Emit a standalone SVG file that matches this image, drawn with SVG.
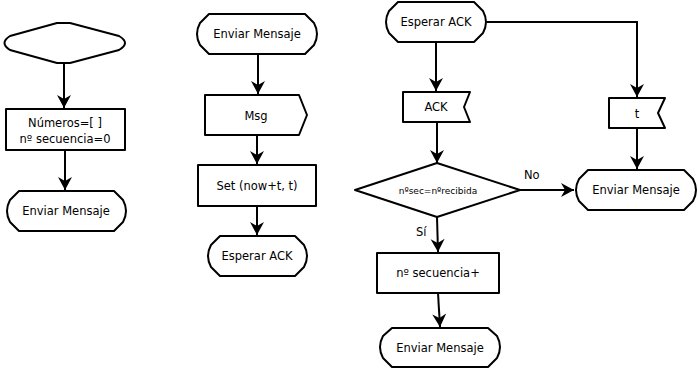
<svg xmlns="http://www.w3.org/2000/svg" width="698" height="369" viewBox="0 0 698 369">
  <style>
    .shape { fill: #ffffff; stroke: #000000; stroke-width: 2; stroke-linejoin: round; }
    .conn { fill: none; stroke: #000000; stroke-width: 2; marker-end: url(#arrow); }
    .label { font-family: "DejaVu Sans", Verdana, sans-serif; font-size: 11.5px; fill: #000000; text-anchor: middle; }
    .small { font-size: 9px; }
    .side { text-anchor: start; }
  </style>
  <defs>
    <marker id="arrow" markerUnits="userSpaceOnUse" markerWidth="16" markerHeight="16" viewBox="-14 -8 16 16" refX="0" refY="0" orient="auto">
      <path d="M0,0 L-13,-7 L-9,0 L-13,7 Z" fill="#000000"/>
    </marker>
  </defs>

  <rect width="698" height="369" fill="#ffffff"/>

  <!-- connectors -->
  <g id="connectors">
    <path class="conn" d="M64,64 L64,108"/>
    <path class="conn" d="M65,150 L65,190"/>
    <path class="conn" d="M258,55 L258,94"/>
    <path class="conn" d="M257,136 L257,164"/>
    <path class="conn" d="M257,206 L257,235"/>
    <path class="conn" d="M436,42 L436,91"/>
    <path class="conn" d="M437,122 L437,163"/>
    <path class="conn" d="M487,22 L637,22 L637,97"/>
    <path class="conn" d="M637,128 L637,169"/>
    <path class="conn" d="M520,190 L574,190"/>
    <path class="conn" d="M437,217 L438,252"/>
    <path class="conn" d="M438,293 L440,327"/>
  </g>

  <!-- column 1 -->
  <g id="start">
    <path class="shape" d="M57,23 H70 L119,36 Q131,43 119,50 L70,63 H57 L10,50 Q-1,43 10,36 Z"/>
  </g>
  <g id="init">
    <rect class="shape" x="6" y="109" width="119" height="41"/>
    <text class="label" x="65" y="127">Números=[ ]</text>
    <text class="label" x="65" y="143">nº secuencia=0</text>
  </g>
  <g id="enviar1">
    <path class="shape" d="M19,191 H114 L123,200 Q129,211 123,222 L114,231 H19 L10,222 Q4,211 10,200 Z"/>
    <text class="label" x="66" y="215">Enviar Mensaje</text>
  </g>

  <!-- column 2 -->
  <g id="enviar2">
    <path class="shape" d="M209,14 H305 L314,23 Q320,34 314,45 L305,54 H209 L200,45 Q194,34 200,23 Z"/>
    <text class="label" x="257" y="38">Enviar Mensaje</text>
  </g>
  <g id="msg">
    <path class="shape" d="M205,95 H299 L307,115 L299,135 H205 Z"/>
    <text class="label" x="256" y="120">Msg</text>
  </g>
  <g id="set">
    <rect class="shape" x="198" y="165" width="118" height="41"/>
    <text class="label" x="257" y="190">Set (now+t, t)</text>
  </g>
  <g id="esperar2">
    <path class="shape" d="M220,236 H295 L304,245 Q310,256 304,267 L295,276 H220 L211,267 Q205,256 211,245 Z"/>
    <text class="label" x="257" y="260">Esperar ACK</text>
  </g>

  <!-- column 3 -->
  <g id="esperar3">
    <path class="shape" d="M398,2 H474 L483,11 Q489,22 483,33 L474,42 H398 L389,33 Q383,22 389,11 Z"/>
    <text class="label" x="436" y="26">Esperar ACK</text>
  </g>
  <g id="ack">
    <path class="shape" d="M403,92 H470 L464,107 L470,122 H403 Z"/>
    <text class="label" x="436" y="111">ACK</text>
  </g>
  <g id="decision">
    <path class="shape" d="M437,163 L520,190 L437,217 L355,190 Z"/>
    <text class="label small" x="438" y="194">nºsec=nºrecibida</text>
    <text class="label side" x="524" y="179">No</text>
    <text class="label side" x="416" y="236">Sí</text>
  </g>
  <g id="incremento">
    <rect class="shape" x="377" y="253" width="122" height="40"/>
    <text class="label" x="438" y="277">nº secuencia+</text>
  </g>
  <g id="enviar3">
    <path class="shape" d="M392,328 H488 L497,336 Q503,347 497,358 L488,367 H392 L383,358 Q377,347 383,336 Z"/>
    <text class="label" x="440" y="352">Enviar Mensaje</text>
  </g>

  <!-- column 4 -->
  <g id="timer">
    <path class="shape" d="M609,98 H665 L658,113 L665,128 H609 Z"/>
    <text class="label" x="637" y="118">t</text>
  </g>
  <g id="enviar4">
    <path class="shape" d="M588,170 H684 L693,179 Q699,190 693,201 L684,210 H588 L579,201 Q573,190 579,179 Z"/>
    <text class="label" x="636" y="194">Enviar Mensaje</text>
  </g>
</svg>
